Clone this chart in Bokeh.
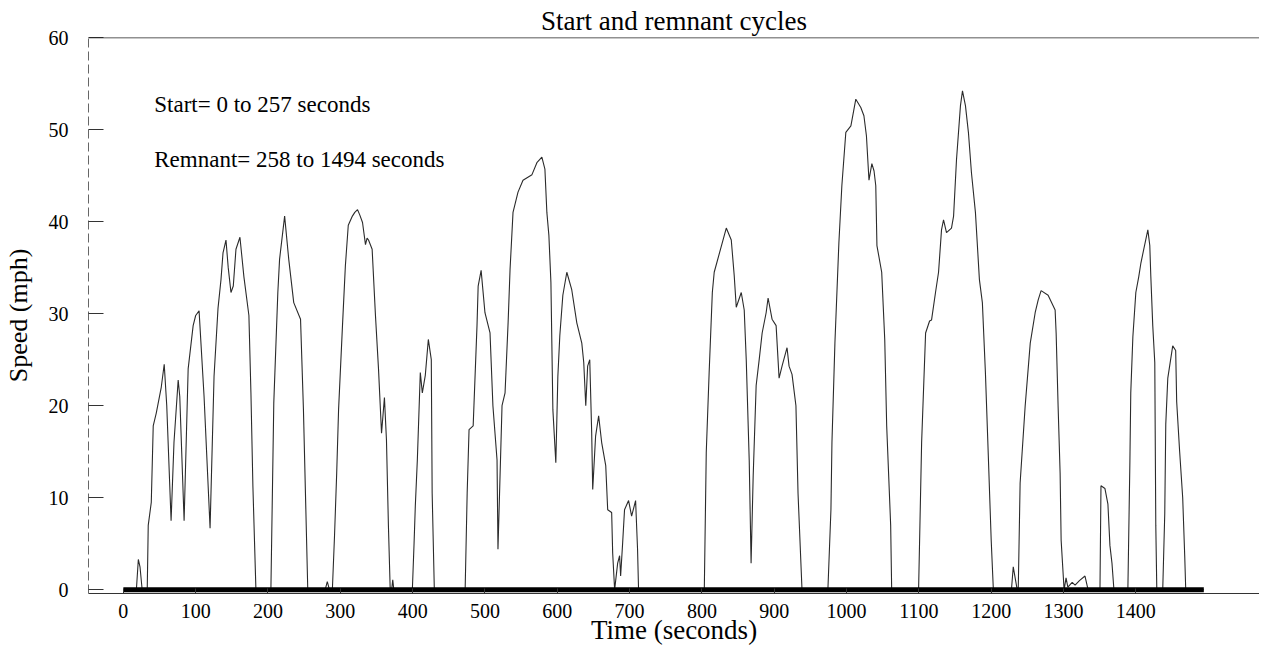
from bokeh.plotting import figure
from bokeh.models import Range1d, FixedTicker, Label, Span
from bokeh.embed import file_html
from bokeh.resources import INLINE

# ---- data (time in s, speed in mph) ----
time_s = [
    0, 18, 20.7, 23, 26, 33, 34.4, 38.6, 41.3, 45.5, 52.4, 56.5, 60, 66, 70, 75.8, 78, 84, 89.6, 96.5,
    100, 104.7, 111.6, 119.9, 125.4, 130.9, 135, 137.8, 141.9, 145, 148.8, 152, 155.7, 161.2, 166.7,
    173.6, 176.4, 179.1, 183.3,
    204, 208, 213.6, 216, 223, 228.7, 235.6, 245, 249, 255,
    279, 282, 285,
    289, 292, 295, 297.6, 303, 307, 311, 316.7, 320, 323.8, 327, 330.7, 334.8, 337, 339, 344, 348.6,
    352.8, 357, 361, 363.8, 366.5, 369,
    371, 372.5, 374,
    399.6, 402, 403.7, 406.5, 410.6, 413.4, 417.5, 421.7, 425.8, 427, 430,
    472.6, 475.4, 478, 483.7, 489, 490.6, 494.7, 500, 507, 511,
    516.7, 518, 523.6, 527.8, 532, 534.7, 538.8, 545.7, 552.6, 565,
    571.8, 578.7, 582.9, 585.6, 588.4, 591.2, 593.9, 598, 600.8, 603.5,
    607.7, 613.2, 620, 627, 633.9, 636.6, 639.4, 642, 644.9, 647.6,
    649, 653, 657.2, 661.4, 667, 669.7, 675.2, 676.6, 679.3, 683.5,
    686.2, 687.6, 690.4, 693, 698.6, 702.8, 708.3, 711, 712.4,
    803.3, 806, 810, 814.4, 817, 833.7, 840.6, 844.7, 847.5, 854.4,
    858.5, 861.3, 865.4, 868, 870.9, 875, 879.2, 883.3, 888.8, 891.5,
    897, 902.6, 906.7, 910.8, 917.7, 920.5, 924.6, 930, 932.9, 938.4,
    974.2, 978.4, 979.8, 983.9, 989.4, 993.5, 999, 1006, 1012.8, 1019.7,
    1024, 1027.5, 1031, 1035, 1038, 1040.4, 1042, 1048.6, 1052.8, 1055.5,
    1061, 1062.4,
    1099.6, 1103.8, 1109.3, 1114.8, 1117.5, 1123, 1127.2, 1131.3, 1134.1, 1138.2,
    1145.1, 1148, 1152, 1157.5, 1160.3, 1164.4, 1168.5, 1172.7, 1178.2, 1183.7,
    1187.8, 1192, 1196, 1200, 1203,
    1228, 1230.5, 1236,
    1237.4, 1240, 1247, 1254, 1260.8, 1265, 1269, 1278.7, 1288.4, 1289.8,
    1292.5, 1295.3, 1296.7, 1300.8,
    1303.5, 1306, 1312, 1316, 1322, 1329.7, 1334,
    1350.4, 1351.8, 1357.3, 1361.4, 1364.2, 1367, 1369.7,
    1389, 1391.8, 1393, 1395.9, 1400, 1404, 1407, 1411, 1416.6, 1419.3,
    1420.7, 1423.4, 1426.2, 1427.6, 1429,
    1437.2, 1440, 1441.4, 1444.2, 1451, 1455.1, 1456.5, 1460.6, 1464.8, 1467.6,
    1469, 1494,
]

speed_mph = [
    0, 0, 3.3, 2.5, 0, 0, 7, 9.5, 17.8, 19.2, 22, 24.5, 20, 7.5, 16, 22.8, 21, 7.5, 24, 28.7,
    29.8, 30.3, 21, 6.7, 23.2, 30.6, 33.7, 36.6, 38, 35, 32.3, 33, 37, 38.3, 34,
    29.8, 21.4, 11.3, 0,
    0, 20.3, 32.3, 35.9, 40.6, 35.9, 31.2, 29.4, 19.6, 0,
    0, 0.9, 0,
    0, 5.9, 12.7, 19.6, 28.7, 35.2, 39.6, 40.6, 41, 41.3, 40.7, 39.9, 37.5, 38.2, 38, 37, 29.8,
    24, 17, 20.9, 16.3, 7, 0,
    0, 1.1, 0,
    0, 5.1, 9.1, 14.1, 23.6, 21.4, 23.3, 27.2, 25, 10.5, 0,
    0, 10.5, 17.4, 17.8, 28.7, 33, 34.7, 30.1, 27.9, 20,
    14.1, 4.4, 20, 21.4, 29, 34.8, 41, 43.2, 44.5, 45.1,
    46.4, 47, 45.7, 41, 38.5, 33.4, 19.6, 13.8, 23.2, 27.6,
    32, 34.5, 32.6, 29, 26.8, 24.7, 20, 24.3, 25, 17,
    10.9, 16.7, 18.9, 16, 13.5, 8.7, 8.4, 4, 0, 2.9,
    3.7, 1.5, 5.1, 8.7, 9.7, 8, 9.7, 4.4, 0,
    0, 14.9, 23.6, 32.3, 34.5, 39.3, 38, 34.1, 30.7, 32.3,
    30.4, 25, 14.1, 2.9, 12.4, 22.2, 25, 27.9, 30.1, 31.7,
    29.4, 28.7, 23, 24.3, 26.3, 24.3, 23.4, 20, 10.5, 0,
    0, 8.7, 16, 26.8, 37.7, 43.9, 49.7, 50.4, 53.3, 52.4,
    51.5, 49.3, 44.5, 46.3, 45.5, 43.9, 37.4, 34.5, 27.2, 17.8,
    7, 0,
    0, 16, 27.9, 29.2, 29.3, 32.3, 34.5, 39.1, 40.2, 38.8,
    39.3, 40.6, 46.7, 52.6, 54.2, 52.6, 49.7, 45.3, 41, 33.7,
    31.2, 23.6, 14.6, 5.4, 0,
    0, 2.5, 0,
    0, 11.6, 20, 26.8, 30.1, 31.5, 32.5, 32, 30.4, 27.9,
    20, 12.7, 5.4, 0,
    1.3, 0.3, 0.8, 0.5, 1, 1.5, 0,
    0, 11.3, 11, 9.3, 4.8, 2.9, 0,
    0, 14, 21.4, 27.5, 32.3, 34, 35.5, 37, 39.1, 37.4,
    34.1, 28.7, 24.7, 7, 0,
    0, 8.3, 18, 23, 26.5, 26, 20.4, 15, 10, 3.7,
    0, 0,
]

x_ticks = [0, 100, 200, 300, 400, 500, 600, 700, 800, 900, 1000, 1100, 1200, 1300, 1400]
y_ticks = [0, 10, 20, 30, 40, 50, 60]

title_text = "Start and remnant cycles"
x_label = "Time (seconds)"
y_label = "Speed (mph)"
note_start = "Start= 0 to 257 seconds"
note_remnant = "Remnant= 258 to 1494 seconds"

FONT = "Liberation Serif"

p = figure(
    width=1259, height=652,
    x_range=Range1d(-48.2, 1571),
    y_range=Range1d(-0.4, 60),
    output_backend="svg", toolbar_location=None,
    min_border_left=84, min_border_right=0, min_border_top=37, min_border_bottom=59,
)
p.outline_line_color = None
p.grid.grid_line_color = None
p.background_fill_color = "white"
p.border_fill_color = "white"

# title
p.title.text = title_text
p.title.align = "center"
p.title.vertical_align = "top"
p.title.text_font = FONT
p.title.text_font_size = "27px"
p.title.text_font_style = "normal"
p.title.text_color = "black"
p.title.standoff = 0

# speed trace
p.line(time_s, speed_mph, line_color="#2b2b2b", line_width=1.1)
# heavy zero baseline drawn over the recorded interval
p.line([time_s[0], time_s[-1]], [speed_mph[0], speed_mph[-1]], line_color="black", line_width=5)

# top frame line at 60 mph
p.add_layout(Span(location=y_ticks[-1], dimension="width", line_color="#222222", line_width=1.5))

# axes
xa = p.xaxis[0]
xa.ticker = FixedTicker(ticks=x_ticks)
xa.axis_label = x_label
xa.axis_label_text_font = FONT
xa.axis_label_text_font_size = "27px"
xa.axis_label_text_font_style = "normal"
xa.axis_label_text_color = "black"
xa.axis_label_standoff = -6
xa.major_label_text_font = FONT
xa.major_label_text_font_size = "20px"
xa.major_label_text_color = "black"
xa.major_label_standoff = 10
xa.major_tick_in = 5
xa.major_tick_out = 0
xa.minor_tick_line_color = None
xa.axis_line_color = "#333333"
xa.major_tick_line_color = "#333333"

ya = p.yaxis[0]
ya.ticker = FixedTicker(ticks=y_ticks)
ya.axis_label = y_label
ya.axis_label_text_font = FONT
ya.axis_label_text_font_size = "26px"
ya.axis_label_text_font_style = "normal"
ya.axis_label_text_color = "black"
ya.axis_label_standoff = 13
ya.major_label_text_font = FONT
ya.major_label_text_font_size = "20px"
ya.major_label_text_color = "black"
ya.major_label_standoff = 20
ya.major_tick_in = 15
ya.major_tick_out = 0
ya.minor_tick_line_color = None
ya.axis_line_color = "#666666"
ya.axis_line_dash = "9 4"
ya.major_tick_line_color = "#333333"

# annotations
p.add_layout(Label(x=42.7, y=52.7, text=note_start, text_font=FONT,
                   text_font_size="23px", text_color="black", text_baseline="alphabetic"))
p.add_layout(Label(x=42.7, y=46.7, text=note_remnant, text_font=FONT,
                   text_font_size="23px", text_color="black", text_baseline="alphabetic"))

open("out.html", "w").write(file_html(p, INLINE))
